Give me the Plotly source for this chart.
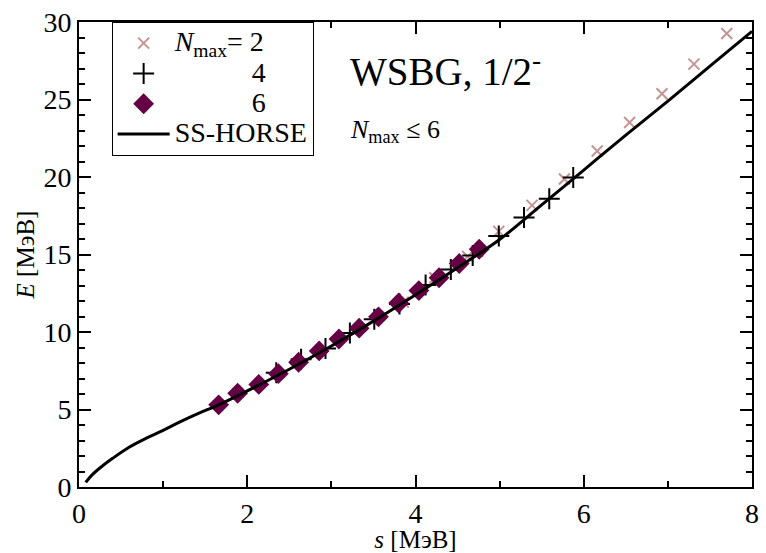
import plotly.graph_objects as go

# Nmax = 2 (pink crosses)
s_n2 = [3.855, 4.23, 4.62, 4.99, 5.385, 5.77, 6.16, 6.545, 6.93, 7.31, 7.70]
e_n2 = [11.93, 13.5, 14.87, 16.49, 18.17, 19.87, 21.68, 23.52, 25.37, 27.28, 29.26]

# Nmax = 4 (black plus)
s_n4 = [2.345, 2.64, 2.93, 3.22, 3.51, 3.81, 4.12, 4.42, 4.68, 4.99, 5.29, 5.59, 5.875]
e_n4 = [7.37, 8.25, 8.93, 9.94, 10.82, 11.8, 13.04, 14.03, 14.93, 16.19, 17.39, 18.59, 19.96]

# Nmax = 6 (diamonds)
s_n6 = [1.66, 1.886, 2.137, 2.37, 2.61, 2.855, 3.09, 3.33, 3.56, 3.80, 4.04, 4.28, 4.52, 4.757]
e_n6 = [5.3, 6.05, 6.62, 7.31, 8.05, 8.78, 9.55, 10.25, 10.98, 11.87, 12.67, 13.5, 14.42, 15.34]

# SS-HORSE curve
s_curve = [0.08, 0.15, 0.27, 0.4, 0.6, 0.8, 1.0, 1.2, 1.42, 1.66, 2.0, 2.5, 3.0, 3.5,
           4.0, 4.5, 5.0, 5.5, 6.0, 6.5, 7.0, 7.5, 8.0]
e_curve = [0.3, 0.75, 1.32, 1.85, 2.58, 3.15, 3.65, 4.2, 4.75, 5.3, 6.2, 7.6, 9.1, 10.7,
           12.4, 14.15, 15.97, 18.2, 20.45, 22.7, 24.9, 27.15, 29.4]

FONT = "Liberation Serif, Times New Roman, serif"
NB = "\u00a0"


def big(t):
    return "<span style='font-size:28px'>" + t + "</span>"


fig = go.Figure()
fig.add_trace(go.Scatter(x=s_n2, y=e_n2, mode="markers",
                         name=big("<i>N</i><sub>max</sub>=" + NB + "2"),
                         marker=dict(symbol="x-thin", size=11, color="#c49494",
                                     line=dict(width=2, color="#c49494"))))
fig.add_trace(go.Scatter(x=s_n4, y=e_n4, mode="markers", name=big(NB * 11 + "4"),
                         marker=dict(symbol="cross-thin", size=15, color="black",
                                     line=dict(width=2, color="black"))))
fig.add_trace(go.Scatter(x=s_n6, y=e_n6, mode="markers", name=big(NB * 11 + "6"),
                         marker=dict(symbol="diamond", size=16, color="#660044",
                                     line=dict(width=0))))
fig.add_trace(go.Scatter(x=s_curve, y=e_curve, mode="lines", name=big("SS-HORSE"),
                         line=dict(color="black", width=3, shape="spline")))

axis_common = dict(showline=True, linecolor="black", linewidth=2, mirror="ticks",
                   ticks="inside", ticklen=12, tickwidth=1.5, tickcolor="black",
                   showgrid=False, zeroline=False, ticklabeloverflow="allow",
                   tickfont=dict(family=FONT, size=28, color="black"))

fig.update_xaxes(range=[0, 8], dtick=2, tick0=0,
                 minor=dict(ticks="inside", ticklen=6, dtick=1, tickcolor="black", tickwidth=1.5),
                 title=dict(text="<i>s</i> [МэВ]", font=dict(family=FONT, size=25, color="black"), standoff=0),
                 **axis_common)
fig.update_yaxes(range=[0, 30], dtick=5, tick0=0,
                 minor=dict(ticks="inside", ticklen=6, dtick=1, tickcolor="black", tickwidth=1.5),
                 title=dict(text="<i>E</i> [МэВ]", font=dict(family=FONT, size=25, color="black"), standoff=2),
                 **axis_common)

fig.add_annotation(x=3.2, y=27.0, xref="x", yref="y", xanchor="left", yanchor="middle",
                   text="WSBG, 1/2<sup>-</sup>", showarrow=False,
                   font=dict(family=FONT, size=39, color="black"))
fig.add_annotation(x=3.2, y=23.0, xref="x", yref="y", xanchor="left", yanchor="middle",
                   text="<i>N</i><sub>max</sub> ≤ 6", showarrow=False,
                   font=dict(family=FONT, size=26, color="black"))

fig.update_layout(
    width=766, height=553,
    margin=dict(l=79, r=7, t=15, b=62),
    plot_bgcolor="white", paper_bgcolor="white",
    font=dict(family=FONT, color="black"),
    legend=dict(x=0.0485, y=1.0, xanchor="left", yanchor="top",
                bordercolor="black", borderwidth=1, bgcolor="white",
                font=dict(family=FONT, size=21, color="black"),
                tracegroupgap=0, itemwidth=52),
)

fig.write_html("out.html")
